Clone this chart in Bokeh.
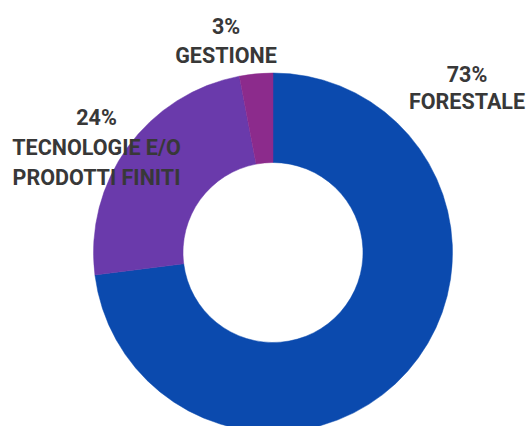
import numpy as np
from bokeh.plotting import figure
from bokeh.models import Range1d, ColumnDataSource
from bokeh.core.properties import value
from bokeh.embed import file_html
from bokeh.resources import INLINE

# ---- data ----
categories = ["FORESTALE", "TECNOLOGIE E/O\nPRODOTTI FINITI", "GESTIONE"]
shares = [73, 24, 3]
colors = ["#0B4AAE", "#6A3AAB", "#8C2B8C"]

# ---- layout (pixels in plot frame) ----
W, H = 528, 426
cx, cy = 272.5, 174
r_out, r_in = 179.5, 90
# label anchor (x, y of the percent line) per category
label_anchor = [(466.5, 352), (96, 309), (225.5, 400.5)]
line_gap = [26.5, 30, 29.5]

frac = np.array(shares, dtype=float) / sum(shares)
cum = np.cumsum(frac)
start = np.pi / 2 - 2 * np.pi * (cum - frac)
end = np.pi / 2 - 2 * np.pi * cum

src = ColumnDataSource(dict(start=start, end=end, color=colors))

p = figure(width=W, height=H, output_backend="svg", toolbar_location=None,
           x_range=Range1d(0, W), y_range=Range1d(0, H),
           min_border=0, outline_line_color=None)
p.axis.visible = False
p.grid.visible = False
p.background_fill_color = "white"
p.border_fill_color = "white"

p.annular_wedge(x=cx, y=cy, inner_radius=r_in, outer_radius=r_out,
                start_angle="start", end_angle="end", direction="clock",
                fill_color="color", line_color="color", line_width=0.5,
                source=src)

xs, ys, txt = [], [], []
for cat, s, (ax, ay), g in zip(categories, shares, label_anchor, line_gap):
    lines = [f"{s}%"] + cat.split("\n")
    for i, t in enumerate(lines):
        xs.append(ax)
        ys.append(ay - i * g)
        txt.append(t)

p.text(x=xs, y=ys, text=txt, text_align="center", text_baseline="middle",
       text_font=value("Roboto"), text_font_style="bold",
       text_font_size="21.5px", text_color="#383838")

open("out.html", "w").write(file_html(p, INLINE))
